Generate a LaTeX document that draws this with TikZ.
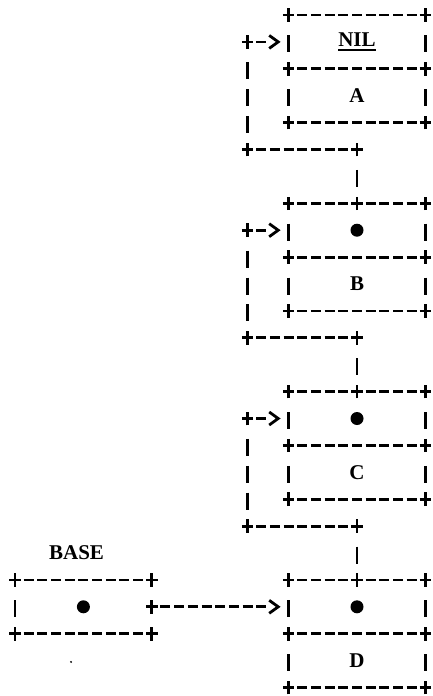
\documentclass[tikz,border=0pt]{standalone}
\usepackage{fontspec}
\setmainfont{Liberation Serif}
\usetikzlibrary{arrows.meta}
\newcommand\thickul[1]{\setbox0\hbox{#1}\makebox[0pt][l]{\rule[-4.5pt]{\wd0}{2.4pt}}\box0}
\tikzset{
  lw/.style={line width=2.8pt},
  hl/.style={lw, dash pattern=on 10pt off 3.68pt, dash phase=5pt},
  vl/.style={lw, dash pattern=on 17pt off 9.9pt, dash phase=17pt, shorten <=10.5pt, shorten >=6.5pt},
  cell/.style={rectangle, draw=none, inner sep=0pt, outer sep=0pt, minimum width=136.8pt, minimum height=53.8pt, font=\fontsize{21}{25}\selectfont\bfseries},
  bulletdot/.style={circle, fill=black, draw=none, inner sep=0pt, minimum size=13pt},
  lbl/.style={inner sep=0pt, font=\fontsize{21}{25}\selectfont\bfseries},
  plusmark/.pic={\draw[line width=2.8pt] (-5.8pt,0pt) -- (5.8pt,0pt) (0pt,-6.8pt) -- (0pt,6.8pt);},
  asciitip/.style={-{Straight Barb[length=9pt,width=13pt]}, shorten >=8pt},
  shortarrow/.style={lw, asciitip, dash pattern=on 10pt off 3.68pt on 10pt off 80pt, dash phase=5pt},
  longarrow/.style={lw, asciitip, dash pattern=on 10pt off 3.68pt on 10pt off 3.68pt on 10pt off 3.68pt on 10pt off 3.68pt on 10pt off 3.68pt on 10pt off 3.68pt on 10pt off 3.68pt on 10pt off 3.68pt on 10pt off 80pt, dash phase=5pt},
}
\newcommand\asciibox[2]{%
  \draw[hl] (#1.north west) -- (#1.north east);
  \draw[hl] (#1.south west) -- (#1.south east);
  \draw[hl] (#2.south west) -- (#2.south east);
  \draw[vl] (#1.north west) -- (#1.south west);
  \draw[vl] (#1.north east) -- (#1.south east);
  \draw[vl] (#2.north west) -- (#2.south west);
  \draw[vl] (#2.north east) -- (#2.south east);
  \foreach \a in {#1.north west, #1.north east, #1.south west, #1.south east, #2.south west, #2.south east} {\pic at (\a) {plusmark};}
}
\newcommand\asciiloop[2]{%
  \draw[vl] (j#1) -- (p#2.north);
  \draw[hl] (k#1) -- (j#1);
  \draw[vl] (a#1) -- (k#1);
  \draw[shortarrow] (a#1) -- (p#1.west);
  \foreach \a in {j#1, k#1, a#1, p#2.north} {\pic at (\a) {plusmark};}
}
\begin{document}
\begin{tikzpicture}[x=13.68pt, y=-26.9pt]
\useasboundingbox (-15pt,15pt) rectangle (418pt,-681pt);
% list cells
\node[cell] (pA) at (25,1) {\thickul{NIL}};
\node[cell] (dA) at (25,3) {A};
\node[cell] (pB) at (25,8) {};
\node[bulletdot] (bB) at (pB.center) {};
\node[cell] (dB) at (25,10) {B};
\node[cell] (pC) at (25,15) {};
\node[bulletdot] (bC) at (pC.center) {};
\node[cell] (dC) at (25,17) {C};
\node[cell] (pD) at (25,22) {};
\node[bulletdot] (bD) at (pD.center) {};
\node[cell] (dD) at (25,24) {D};
% base
\node[lbl] (baselbl) at (4.5,20) {BASE};
\node[cell] (pBase) at (5,22) {};
\node[bulletdot] (bBase) at (pBase.center) {};
% loop coordinates
\coordinate (jA) at (25,5); \coordinate (kA) at (17,5); \coordinate (aA) at (17,1);
\coordinate (jB) at (25,12); \coordinate (kB) at (17,12); \coordinate (aB) at (17,8);
\coordinate (jC) at (25,19); \coordinate (kC) at (17,19); \coordinate (aC) at (17,15);
% boxes
\asciibox{pA}{dA}
\asciibox{pB}{dB}
\asciibox{pC}{dC}
\asciibox{pD}{dD}
% loops
\asciiloop{A}{B}
\asciiloop{B}{C}
\asciiloop{C}{D}
% base box
\draw[hl] (pBase.north west) -- (pBase.north east);
\draw[hl] (pBase.south west) -- (pBase.south east);
\draw[vl] (pBase.north west) -- (pBase.south west);
\foreach \a in {pBase.north west, pBase.north east, pBase.south west, pBase.south east, pBase.east} {\pic at (\a) {plusmark};}
\draw[longarrow] (pBase.east) -- (pD.west);
% speck
\fill (4.1,24.05) circle (1.1pt);
\end{tikzpicture}
\end{document}
